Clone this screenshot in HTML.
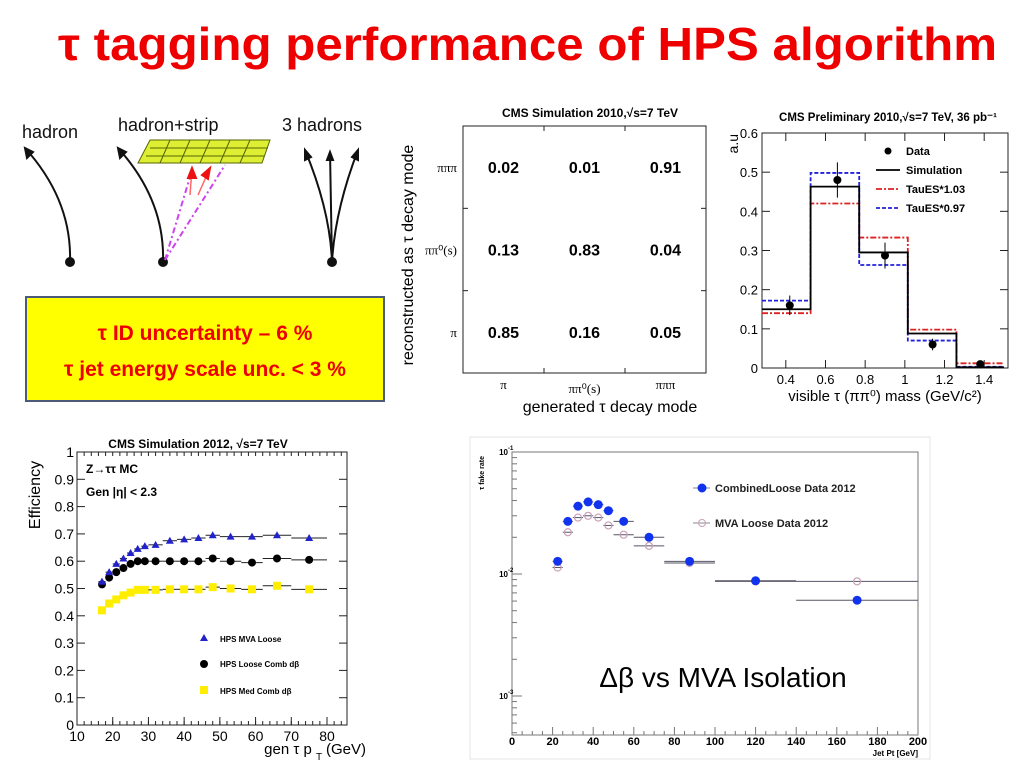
<!DOCTYPE html>
<html><head><meta charset="utf-8"><style>
html,body{margin:0;padding:0;background:#fff;}
svg{display:block;font-family:"Liberation Sans",sans-serif;}
</style></head><body>
<svg id="s" width="1024" height="768" viewBox="0 0 1024 768" xmlns="http://www.w3.org/2000/svg">
<text x="58" y="60" font-size="46" font-weight="bold" fill="#ee0000" textLength="939" lengthAdjust="spacingAndGlyphs">τ tagging performance of HPS algorithm</text>

<g fill="none" stroke="#111" stroke-width="2">
<text x="22" y="138" font-size="18" fill="#111" stroke="none">hadron</text>
<text x="118" y="131" font-size="18" fill="#111" stroke="none">hadron+strip</text>
<text x="282" y="131" font-size="18" fill="#111" stroke="none">3 hadrons</text>
<path d="M70 262 Q72 200 25 148"/><path d="M25 148 l2 10 l6 -6 z" fill="#111"/>
<circle cx="70" cy="262" r="4" fill="#111"/>
<path d="M163 262 Q165 200 118 148"/><path d="M118 148 l2 10 l6 -6 z" fill="#111"/>
<circle cx="163" cy="262" r="4" fill="#111"/>
<path d="M332 262 Q330 210 305 150 M332 262 L330 152 M332 262 Q335 210 358 150"/>
<path d="M305 150 l0 10 l6 -3 z M330 152 l-3 8 l6 0 z M358 150 l-6 7 l6 3 z" fill="#111"/>
<circle cx="332" cy="262" r="4" fill="#111"/>
<g stroke="#556600" stroke-width="1" fill="#ddee33">
<polygon points="150,140 270,140 262,163 138,163"/>
</g>
<path d="M150 148 H268 M146 156 H265" stroke="#556600" stroke-width="1"/>
<path d="M170 140 L160 163 M190 140 L180 163 M210 140 L200 163 M230 140 L220 163 M250 140 L240 163" stroke="#556600" stroke-width="1"/>
<path d="M165 260 L193 167 M165 260 L225 165" stroke="#cc44ee" stroke-dasharray="6,3,2,3"/>
<path d="M190 195 L192 168 M198 195 L210 168" stroke="#ff6666" stroke-width="1.5"/>
<path d="M192 168 l-4 10 l8 0 z M210 168 l-8 7 l6 4 z" fill="#ee1111" stroke="#ee1111"/>
</g>

<g>
<rect x="26" y="297" width="358" height="104" fill="#ffff00" stroke="#4a5a78" stroke-width="2"/>
<text x="205" y="340" text-anchor="middle" font-size="21" font-weight="bold" fill="#ee0000">τ ID uncertainty – 6 %</text>
<text x="205" y="376" text-anchor="middle" font-size="21" font-weight="bold" fill="#ee0000">τ jet energy scale unc.  &lt; 3 %</text>
</g>

<g id="matrix"></g>
<g id="hist"></g>
<g id="eff"></g>
<g id="fake"></g>
</svg>
<script>
// ---- matrix data
const matCats=["π","ππ⁰(s)","πππ"];
const matVals=[[0.85,0.16,0.05],[0.13,0.83,0.04],[0.02,0.01,0.91]]; // [reco][gen]
// ---- histogram data
const histEdges=[0.28,0.525,0.77,1.015,1.26,1.5];
const histSim=[0.15,0.463,0.295,0.088,0.002];
const histUp=[0.14,0.42,0.333,0.098,0.012];
const histDown=[0.172,0.498,0.263,0.07,0.003];
const dataX=[0.42,0.66,0.9,1.14,1.38];
const dataY=[0.16,0.48,0.287,0.06,0.01];
const dataErr=[0.025,0.045,0.033,0.015,0.005];
const histYTicks=[0,0.1,0.2,0.3,0.4,0.5,0.6];
const histXTicks=[0.4,0.6,0.8,1,1.2,1.4];
// ---- efficiency data
const effX=[17,19,21,23,25,27,29,32,36,40,44,48,53,59,66,75];
const effXErr=[1,1,1,1,1,1,1,2,2,2,2,2,3,3,4,5];
const effMVA=[0.525,0.56,0.59,0.61,0.63,0.645,0.655,0.66,0.675,0.68,0.685,0.695,0.69,0.69,0.695,0.685];
const effLoose=[0.515,0.54,0.56,0.575,0.59,0.60,0.60,0.60,0.60,0.60,0.60,0.61,0.60,0.595,0.61,0.605];
const effMed=[0.42,0.445,0.46,0.475,0.485,0.495,0.495,0.495,0.497,0.497,0.497,0.505,0.50,0.497,0.51,0.497];
const effYTicks=[0,0.1,0.2,0.3,0.4,0.5,0.6,0.7,0.8,0.9,1];
const effXTicks=[10,20,30,40,50,60,70,80];
// ---- fake rate data
const fakeX=[22.5,27.5,32.5,37.5,42.5,47.5,55,67.5,87.5,120,170];
const fakeXErr=[2.5,2.5,2.5,2.5,2.5,2.5,5,7.5,12.5,20,30];
const fakeComb=[0.0127,0.027,0.036,0.039,0.037,0.033,0.027,0.020,0.0127,0.0088,0.0061];
const fakeMVA=[0.0113,0.022,0.029,0.030,0.029,0.025,0.021,0.017,0.0123,0.0087,0.0087];
const fakeXTicks=[0,20,40,60,80,100,120,140,160,180,200];

const NS="http://www.w3.org/2000/svg";
function mk(p,t,a,txt){const e=document.createElementNS(NS,t);for(const k in a)e.setAttribute(k,a[k]);if(txt!==undefined)e.textContent=txt;p.appendChild(e);return e;}

// ===== matrix
(function(){
const g=document.getElementById('matrix');
const L=463,R=706,T=126,B=373,cw=(R-L)/3,ch=(B-T)/3;
mk(g,'text',{x:590,y:117,'font-size':12,'font-weight':'bold','text-anchor':'middle'},'CMS Simulation 2010,\u221As=7 TeV');
let f=mk(g,'rect',{x:L,y:T,width:R-L,height:B-T,fill:'none',stroke:'#222','stroke-width':1});

for(let i=1;i<3;i++){mk(g,'line',{x1:L+i*cw,y1:B,x2:L+i*cw,y2:B-5,stroke:'#222'});mk(g,'line',{x1:L,y1:T+i*ch,x2:L+5,y2:T+i*ch,stroke:'#222'});
mk(g,'line',{x1:L+i*cw,y1:T,x2:L+i*cw,y2:T+5,stroke:'#222'});mk(g,'line',{x1:R,y1:T+i*ch,x2:R-5,y2:T+i*ch,stroke:'#222'});}
for(let r=0;r<3;r++)for(let c=0;c<3;c++){
const t=mk(g,'text',{x:L+(c+0.5)*cw,y:B-(r+0.5)*ch+6,'font-size':16,'font-weight':'bold','text-anchor':'middle'},matVals[r][c].toFixed(2));
}
matCats.forEach((c,i)=>{
mk(g,'text',{x:L-6,y:B-(i+0.5)*ch+5,'font-size':13,'text-anchor':'end','font-family':'Liberation Serif'},c);
mk(g,'text',{x:L+(i+0.5)*cw,y:B+16+(i==1?4:0),'font-size':13,'text-anchor':'middle','font-family':'Liberation Serif'},c);});
mk(g,'text',{x:610,y:412,'font-size':16,'text-anchor':'middle'},'generated τ decay mode');
mk(g,'text',{x:0,y:0,'font-size':16,'text-anchor':'middle',transform:'translate(413,255) rotate(-90)'},'reconstructed as τ decay mode');
})();

// ===== histogram
(function(){
const g=document.getElementById('hist');
const L=762,R=1008,T=133,B=368,x0=0.28,x1=1.52,y0=0,y1=0.6;
const X=v=>L+(v-x0)/(x1-x0)*(R-L), Y=v=>B-(v-y0)/(y1-y0)*(B-T);
mk(g,'text',{x:888,y:121,'font-size':11.5,'font-weight':'bold','text-anchor':'middle'},'CMS Preliminary 2010,\u221As=7 TeV, 36 pb\u207B\u00B9');
mk(g,'rect',{x:L,y:T,width:R-L,height:B-T,fill:'none',stroke:'#222'});
histYTicks.forEach(v=>{mk(g,'line',{x1:L,x2:L+8,y1:Y(v),y2:Y(v),stroke:'#222'});mk(g,'line',{x1:R,x2:R-8,y1:Y(v),y2:Y(v),stroke:'#222'});
mk(g,'text',{x:L-4,y:Y(v)+5,'font-size':13,'text-anchor':'end'},v===0?'0':v.toFixed(1));});
histXTicks.forEach(v=>{mk(g,'line',{x1:X(v),x2:X(v),y1:B,y2:B-8,stroke:'#222'});mk(g,'line',{x1:X(v),x2:X(v),y1:T,y2:T+8,stroke:'#222'});
mk(g,'text',{x:X(v),y:B+16,'font-size':13,'text-anchor':'middle'},String(v));});
mk(g,'text',{x:0,y:0,'font-size':14,'text-anchor':'end',transform:'translate(738,134) rotate(-90)'},'a.u');
mk(g,'text',{x:885,y:401,'font-size':15,'text-anchor':'middle'},'visible τ (ππ\u2070) mass (GeV/c\u00B2)');
function step(arr,st,dash,name){let d='M'+X(histEdges[0])+' '+Y(arr[0]);
arr.forEach((v,i)=>{d+=' L'+X(histEdges[i])+' '+Y(v)+' L'+X(histEdges[i+1])+' '+Y(v);});
const p=mk(g,'path',{d:d,fill:'none',stroke:st,'stroke-width':1.8,'stroke-dasharray':dash});
}
step(histUp,'#dd2222','6,2,2,2','series-taues-103');
step(histDown,'#2222dd','4,2','series-taues-097');
step(histSim,'#000','none','series-simulation');
dataX.forEach((x,i)=>{mk(g,'line',{x1:X(x),x2:X(x),y1:Y(dataY[i]-dataErr[i]),y2:Y(dataY[i]+dataErr[i]),stroke:'#000'});
const c=mk(g,'circle',{cx:X(x),cy:Y(dataY[i]),r:4,fill:'#000'});});
const lg=mk(g,'g',{'font-size':11,'font-weight':'bold'});
mk(lg,'circle',{cx:888,cy:151,r:3.5,fill:'#000'});mk(lg,'text',{x:906,y:155},'Data');
mk(lg,'line',{x1:876,x2:900,y1:170,y2:170,stroke:'#000','stroke-width':1.8});mk(lg,'text',{x:906,y:174},'Simulation');
mk(lg,'line',{x1:876,x2:900,y1:189,y2:189,stroke:'#d22','stroke-width':1.8,'stroke-dasharray':'6,2,2,2'});mk(lg,'text',{x:906,y:193},'TauES*1.03');
mk(lg,'line',{x1:876,x2:900,y1:208,y2:208,stroke:'#22d','stroke-width':1.8,'stroke-dasharray':'4,2'});mk(lg,'text',{x:906,y:212},'TauES*0.97');
})();

// ===== efficiency
(function(){
const g=document.getElementById('eff');
const L=77,R=347,T=452,B=725,x0=10,x1=85.6,y0=0,y1=1;
const X=v=>L+(v-x0)/(x1-x0)*(R-L), Y=v=>B-(v-y0)/(y1-y0)*(B-T);
mk(g,'text',{x:198,y:448,'font-size':12,'font-weight':'bold','text-anchor':'middle'},'CMS Simulation 2012, \u221As=7 TeV');
mk(g,'rect',{x:L,y:T,width:R-L,height:B-T,fill:'none',stroke:'#222'});
effYTicks.forEach(v=>{mk(g,'line',{x1:L,x2:L+8,y1:Y(v),y2:Y(v),stroke:'#222'});mk(g,'line',{x1:R,x2:R-8,y1:Y(v),y2:Y(v),stroke:'#222'});
mk(g,'text',{x:L-3,y:Y(v)+5,'font-size':14,'text-anchor':'end'},v===0||v===1?String(v):v.toFixed(1));});
for(let v=12;v<=84;v+=2){mk(g,'line',{x1:X(v),x2:X(v),y1:B,y2:B-4,stroke:'#222'});mk(g,'line',{x1:X(v),x2:X(v),y1:T,y2:T+4,stroke:'#222'});}
effXTicks.forEach(v=>{mk(g,'line',{x1:X(v),x2:X(v),y1:B,y2:B-8,stroke:'#222'});
mk(g,'text',{x:X(v),y:B+16,'font-size':14,'text-anchor':'middle'},String(v));});
mk(g,'text',{x:0,y:0,'font-size':16,'text-anchor':'middle',transform:'translate(40,495) rotate(-90)'},'Efficiency');
mk(g,'text',{x:288,y:754,'font-size':15,'text-anchor':'middle'},'gen τ p');
mk(g,'text',{x:316,y:760,'font-size':10},'T');
mk(g,'text',{x:326,y:754,'font-size':15},'(GeV)');
mk(g,'text',{x:86,y:473,'font-size':12,'font-weight':'bold'},'Z\u2192ττ MC');
mk(g,'text',{x:86,y:496,'font-size':12,'font-weight':'bold'},'Gen |η| < 2.3');
function ser(arr,color,shape,name){const sg=mk(g,'g',{});
effX.forEach((x,i)=>{const y=Y(arr[i]);mk(sg,'line',{x1:X(x-effXErr[i]),x2:X(x+effXErr[i]),y1:y,y2:y,stroke:'#222'});
if(shape==='tri')mk(sg,'polygon',{points:`${X(x)},${y-4} ${X(x)-4},${y+3} ${X(x)+4},${y+3}`,fill:color});
else if(shape==='c')mk(sg,'circle',{cx:X(x),cy:y,r:4,fill:color});
else mk(sg,'rect',{x:X(x)-4,y:y-4,width:8,height:8,fill:color});});}
ser(effMed,'#ffee00','sq','series-med-comb');
ser(effLoose,'#000','c','series-loose-comb');
ser(effMVA,'#2222cc','tri','series-mva-loose');
const lg=mk(g,'g',{'font-size':8,'font-weight':'bold'});
mk(lg,'polygon',{points:'204,634 200,641 208,641',fill:'#2222cc'});mk(lg,'text',{x:220,y:642},'HPS MVA Loose');
mk(lg,'circle',{cx:204,cy:664,r:4,fill:'#000'});mk(lg,'text',{x:220,y:667},'HPS Loose Comb dβ');
mk(lg,'rect',{x:200,y:686,width:8,height:8,fill:'#ffee00'});mk(lg,'text',{x:220,y:694},'HPS Med Comb dβ');
})();

// ===== fake rate
(function(){
const g=document.getElementById('fake');
mk(g,'rect',{x:470,y:437,width:460,height:322,fill:'none',stroke:'#e4e4e4','stroke-width':1});
const L=512,R=918,T=452,B=735,x0=0,x1=200,dec=122;
const X=v=>L+(v-x0)/(x1-x0)*(R-L), Y=v=>T-(Math.log10(v)+1)*dec;
mk(g,'rect',{x:L,y:T,width:R-L,height:B-T,fill:'none',stroke:'#777'});
[-1,-2,-3].forEach(e=>{mk(g,'line',{x1:L,x2:L+10,y1:Y(Math.pow(10,e)),y2:Y(Math.pow(10,e)),stroke:'#777'});
mk(g,'text',{x:L-4,y:Y(Math.pow(10,e))+3,'font-size':8,'font-weight':'bold','text-anchor':'end'},'10');
mk(g,'text',{x:L-4,y:Y(Math.pow(10,e))-2,'font-size':6,'font-weight':'bold'},String(e));});
[2,3,4,5,6,7,8,9].forEach(m=>[-2,-3,-4].forEach(e=>{const v=m*Math.pow(10,e);if(Y(v)<B&&Y(v)>T)mk(g,'line',{x1:L,x2:L+5,y1:Y(v),y2:Y(v),stroke:'#777'});}));
for(let v=5;v<200;v+=5){mk(g,'line',{x1:X(v),x2:X(v),y1:B,y2:B-(v%20===0?8:4),stroke:'#777'});}
fakeXTicks.forEach(v=>mk(g,'text',{x:X(v),y:B+10,'font-size':11,'font-weight':'bold','text-anchor':'middle'},String(v)));
mk(g,'text',{x:918,y:756,'font-size':8,'font-weight':'bold','text-anchor':'end'},'Jet Pt [GeV]');
mk(g,'text',{x:0,y:0,'font-size':7,'font-weight':'bold','text-anchor':'end',transform:'translate(484,456) rotate(-90)'},'τ fake rate');
function ser(arr,name,filled){const sg=mk(g,'g',{});
fakeX.forEach((x,i)=>{const y=Y(arr[i]);mk(sg,'line',{x1:X(x-fakeXErr[i]),x2:X(x+fakeXErr[i]),y1:y,y2:y,stroke:'#556',"stroke-width":1});
if(filled)mk(sg,'circle',{cx:X(x),cy:y,r:4.5,fill:'#1133ee'});else mk(sg,'circle',{cx:X(x),cy:y,r:3.5,fill:'none',stroke:'#c8a0b8','stroke-width':1.2});});}
ser(fakeMVA,'series-mva-loose-data',false);
ser(fakeComb,'series-combined-loose-data',true);
const lg=mk(g,'g',{'font-size':11,'font-weight':'bold','fill':'#222'});
mk(lg,'line',{x1:693,x2:710,y1:488,y2:488,stroke:'#888'});mk(lg,'circle',{cx:702,cy:488,r:4.5,fill:'#1133ee'});mk(lg,'text',{x:715,y:492},'CombinedLoose Data 2012');
mk(lg,'line',{x1:693,x2:710,y1:523,y2:523,stroke:'#888'});mk(lg,'circle',{cx:702,cy:523,r:3.5,fill:'none',stroke:'#c8a0b8'});mk(lg,'text',{x:715,y:527},'MVA Loose Data 2012');
mk(g,'text',{x:723,y:687,'font-size':28,'text-anchor':'middle'},'Δβ vs MVA Isolation');
})();
</script>
</body></html>
